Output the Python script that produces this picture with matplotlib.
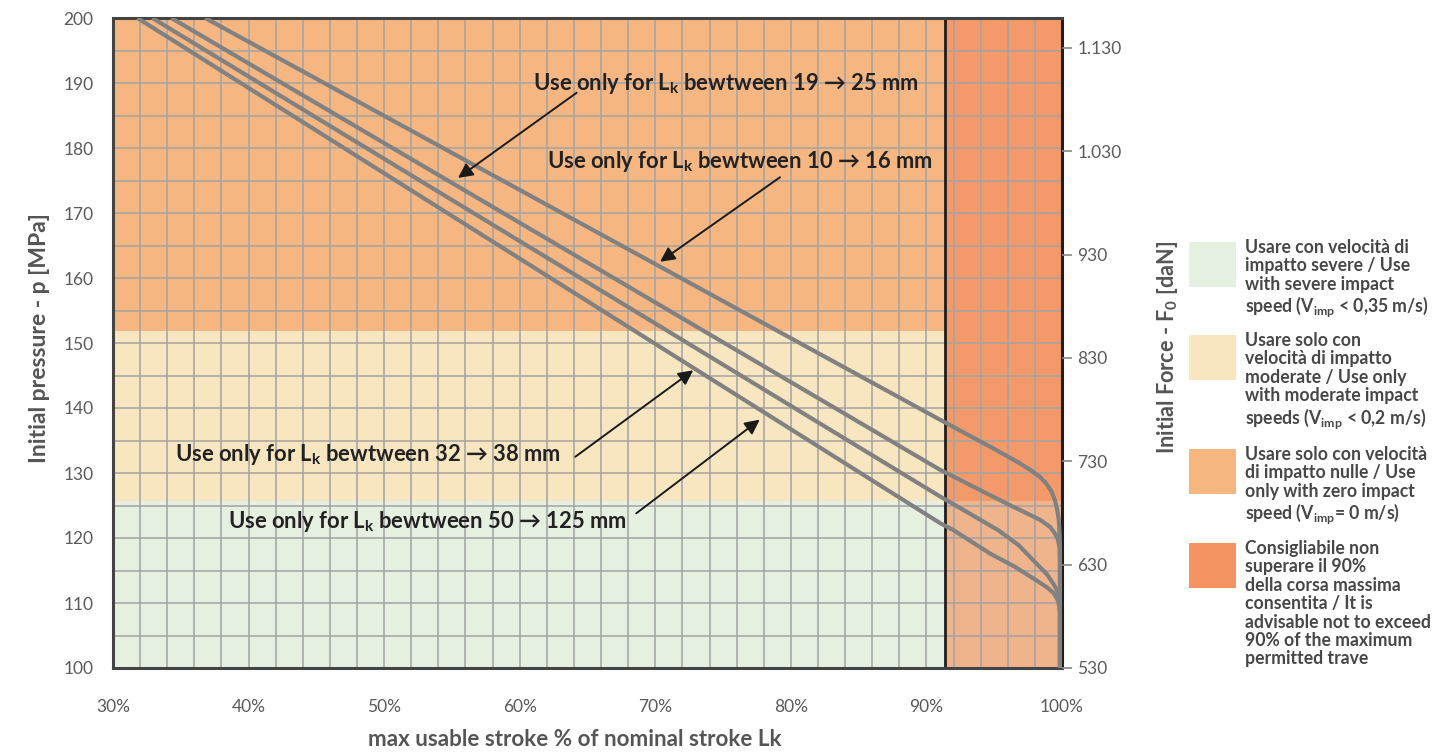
import matplotlib
matplotlib.use("Agg")
import matplotlib.pyplot as plt
from matplotlib.patches import Rectangle

plt.rcParams['font.family'] = ['Lato', 'DejaVu Sans']
plt.rcParams['mathtext.default'] = 'regular'

# Zone limits (MPa / % of stroke)
green_top = 125.7
yellow_top = 151.8
stroke_limit = 91.4

# Curves: (stroke %, initial pressure MPa)
c10_16_x = [36.8, 91.0, 95.0, 96.8, 97.64, 98.38, 98.87, 99.24, 99.48, 99.65, 99.76, 99.82, 99.85, 99.85]
c10_16_p = [200, 138.2, 133.7, 131.6, 130.5, 129.4, 128.3, 127.1, 125.8, 124.3, 122.8, 120.7, 118.5, 100]

c19_25_x = [34.3, 91.0, 95.92, 97.15, 98.38, 99.12, 99.48, 99.7, 99.82, 99.85, 99.85]
c19_25_p = [200, 130.5, 125.3, 124.05, 122.8, 121.7, 120.7, 119.8, 118.5, 116.0, 100]

c32_38_x = [32.9, 91.0, 95.3, 96.8, 98.1, 98.9, 99.35, 99.65, 99.8, 99.85, 99.85]
c32_38_p = [200, 126.4, 121.2, 118.9, 116.1, 114.4, 113.0, 111.9, 111.0, 109.5, 100]

c50_125_x = [31.8, 91.0, 92.0, 94.7, 96.5, 98.1, 98.9, 99.4, 99.7, 99.8, 99.85, 99.85]
c50_125_p = [200, 122.3, 121.2, 117.6, 115.6, 113.5, 112.4, 111.5, 110.4, 109.4, 108.5, 100]

x_ticks = [30, 40, 50, 60, 70, 80, 90, 100]
y_ticks = [100, 110, 120, 130, 140, 150, 160, 170, 180, 190, 200]
force_ticks = [530, 630, 730, 830, 930, 1030, 1130]
force_labels = ['530', '630', '730', '830', '930', '1.030', '1.130']
force_top = 1159

labels = ['Use only for L$_{k}$ bewtween 19 → 25 mm',
          'Use only for L$_{k}$ bewtween 10 → 16 mm',
          'Use only for L$_{k}$ bewtween 32 → 38 mm',
          'Use only for L$_{k}$ bewtween 50 → 125 mm']
label_xy = [(61.0, 190.0), (62.0, 178.0), (34.6, 132.8), (38.5, 122.6)]
arrow_tail = [(64.2, 188.5), (79.2, 175.5), (64.1, 132.5), (68.6, 123.8)]
arrow_tip = [(55.45, 175.4), (70.35, 162.5), (72.8, 145.8), (77.7, 138.2)]

legend_texts = [
    'Usare con velocità di\nimpatto severe / Use\nwith severe impact\nspeed (V$_{imp}$ < 0,35 m/s)',
    'Usare solo con\nvelocità di impatto\nmoderate / Use only\nwith moderate impact\nspeeds (V$_{imp}$ < 0,2 m/s)',
    'Usare solo con velocità\ndi impatto nulle / Use\nonly with zero impact\nspeed (V$_{imp}$= 0 m/s)',
    'Consigliabile non\nsuperare il 90%\ndella corsa massima\nconsentita / It is\nadvisable not to exceed\n90% of the maximum\npermitted trave',
]

GREEN = '#e6f0e0'
YELLOW = '#f8e6c0'
ORANGE = '#f5b681'
ORANGE_LIGHT = '#f0b48c'
RED = '#f4996a'
LEGEND_COLORS = [GREEN, YELLOW, '#f5b680', '#f59463']

fig = plt.figure(figsize=(14.49, 7.54), dpi=100)
ax = fig.add_axes([113 / 1449, 1 - 668 / 754, (1062 - 113) / 1449, (668 - 18) / 754])
ax.set_xlim(30, 100)
ax.set_ylim(100, 200)

# Background zones
ax.fill_between([30, stroke_limit], 100, green_top, color=GREEN, lw=0, zorder=0)
ax.fill_between([30, stroke_limit], green_top, yellow_top, color=YELLOW, lw=0, zorder=0)
ax.fill_between([30, stroke_limit], yellow_top, 200, color=ORANGE, lw=0, zorder=0)
ax.fill_between([stroke_limit, 100], 100, green_top, color=ORANGE_LIGHT, lw=0, zorder=0)
ax.fill_between([stroke_limit, 100], green_top, 200, color=RED, lw=0, zorder=0)

# Grid
for gx in range(32, 100, 2):
    ax.axvline(gx, color='#a3a3a3', lw=1.1, zorder=1)
for gy in range(105, 200, 5):
    ax.axhline(gy, color='#a3a3a3', lw=1.1, zorder=1)

ax.axvline(stroke_limit, color='#1e1e1e', lw=2.0, zorder=2)

for xs, ps in [(c10_16_x, c10_16_p), (c19_25_x, c19_25_p),
               (c32_38_x, c32_38_p), (c50_125_x, c50_125_p)]:
    ax.plot(xs, ps, color='#818181', lw=3.0, solid_capstyle='butt',
            solid_joinstyle='round', zorder=3, clip_on=True)

for txt, xy, tail, tip in zip(labels, label_xy, arrow_tail, arrow_tip):
    ax.text(xy[0], xy[1], txt, ha='left', va='center', fontsize=15.8,
            fontweight='bold', color='#222222', zorder=5)
    ax.annotate('', xy=tip, xytext=tail,
                arrowprops=dict(arrowstyle='-|>', color='#1a1a1a', lw=1.4,
                                mutation_scale=22, shrinkA=0, shrinkB=0),
                zorder=5)

# Axes styling
for side in ['left', 'bottom', 'top']:
    ax.spines[side].set_color('#444444')
    ax.spines[side].set_linewidth(2.2)
ax.spines['right'].set_color('#1e1e1e')
ax.spines['right'].set_linewidth(2.2)

ax.set_xticks(x_ticks)
ax.set_xticklabels([f'{v}%' for v in x_ticks])
ax.set_yticks(y_ticks)
ax.tick_params(axis='both', length=0, labelsize=12.5, colors='#5a5a5a')
ax.tick_params(axis='x', pad=22)
ax.tick_params(axis='y', pad=14)

fig.text(575 / 1449, 1 - 740 / 754, 'max usable stroke % of nominal stroke Lk',
         ha='center', va='center', fontsize=16.1, fontweight='bold', color='#555555')
fig.text(40 / 1449, 1 - 338 / 754, 'Initial pressure - p [MPa]', rotation=90,
         ha='center', va='center', fontsize=16.5, fontweight='bold', color='#555555')

ax2 = ax.twinx()
ax2.set_ylim(530, force_top)
ax2.set_yticks(force_ticks)
ax2.set_yticklabels(force_labels)
ax2.tick_params(axis='y', length=7, width=1.2, color='#888888', labelsize=12.5,
                labelcolor='#5a5a5a', pad=4)
for s in ax2.spines.values():
    s.set_visible(False)

fig.text(1168 / 1449, 1 - 347 / 754, 'Initial Force - F$_{0}$ [daN]', rotation=90,
         ha='center', va='center', fontsize=15.6, fontweight='bold', color='#555555')

# Legend
box_tops = [242, 335, 449, 543]
for col, txt, top in zip(LEGEND_COLORS, legend_texts, box_tops):
    fig.patches.append(Rectangle((1189 / 1449, 1 - (top + 45) / 754), 47 / 1449, 45 / 754,
                                 transform=fig.transFigure, color=col, lw=0))
    fig.text(1245 / 1449, 1 - (top - 3) / 754, txt, ha='left', va='top', fontsize=12.7,
             fontweight='bold', color='#474747', linespacing=1.1)

fig.savefig('out.png', dpi=100)
